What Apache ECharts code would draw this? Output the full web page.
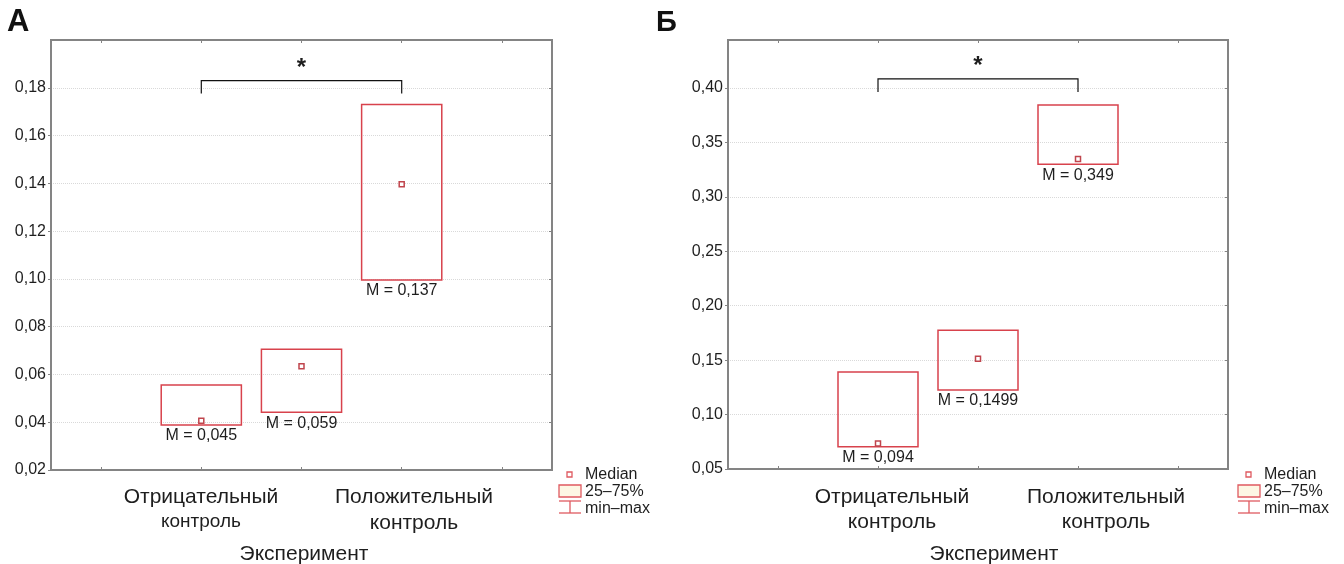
<!DOCTYPE html>
<html><head><meta charset="utf-8">
<script src="https://cdn.jsdelivr.net/npm/echarts@6/dist/echarts.min.js"></script>
<style>html,body{margin:0;padding:0;background:#fff}#c{width:1344px;height:564px}</style>
</head><body><div id="c"></div>
<script>
// ---- data ----
const slots = ['', 'g1', 'g2', 'g3', ''];      // category slots on the x axis
const groupSlot = [1, 2, 3];                      // slot of each box
// Panel А
const aQ1 = [0.0388, 0.0442, 0.0995];
const aQ3 = [0.0556, 0.0705, 0.1730];
const aMedian = [0.0406, 0.0634, 0.1396];
const aMean = [0.045, 0.059, 0.137];
const aAxis = {min: 0.02, max: 0.20, interval: 0.02};
const aBracket = [1, 3, 0.1830, 0.1776];
// Panel Б
const bQ1 = [0.0704, 0.1226, 0.3300];
const bQ3 = [0.1390, 0.1774, 0.3843];
const bMedian = [0.0735, 0.1512, 0.3346];
const bMean = [0.094, 0.1499, 0.349];
const bAxis = {min: 0.05, max: 0.444, interval: 0.05};
const bBracket = [1, 3, 0.4083, 0.3963];
// texts
const panelLetters = ['А', 'Б'];
const groupLabels = [['Отрицательный', 'контроль'], ['Положительный', 'контроль']];
const xTitle = 'Эксперимент';
const legendNames = ['Median', '25–75%', 'min–max'];
const star = '*';

// ---- styles ----
const FONT = '"Liberation Sans", Arial, Helvetica, sans-serif';
const RED = '#d8424c';
const MED = '#c0454d';
const LEG = '#df5a60';
const TXT = '#1e1e1e';
const FRAME = '#848484';

function fmt(v) { return String(v).replace('.', ','); }

function boxData(q1, q3, med, mean) {
  return groupSlot.map((s, i) => [s, q1[i], q3[i], med[i], mean[i]]);
}

function boxRender(params, api) {
  const x = api.value(0);
  const lo = api.coord([x, api.value(1)]);
  const hi = api.coord([x, api.value(2)]);
  const md = api.coord([x, api.value(3)]);
  const w = api.size([1, 0])[0] * 0.8;
  return {type: 'group', children: [
    {type: 'rect', shape: {x: lo[0] - w / 2, y: hi[1], width: w, height: lo[1] - hi[1]},
     style: {fill: 'none', stroke: RED, lineWidth: 1.5}},
    {type: 'rect', shape: {x: md[0] - 2.5, y: md[1] - 2.5, width: 5, height: 5},
     style: {fill: '#fff', stroke: MED, lineWidth: 1.5}},
    {type: 'text', style: {text: 'M = ' + fmt(api.value(4)), x: lo[0], y: lo[1] + 3,
     align: 'center', verticalAlign: 'top', font: '16px ' + FONT, fill: TXT}}
  ]};
}

function bracketRender(params, api) {
  const p1 = api.coord([api.value(0), api.value(3)]);
  const p2 = api.coord([api.value(0), api.value(2)]);
  const p3 = api.coord([api.value(1), api.value(2)]);
  const p4 = api.coord([api.value(1), api.value(3)]);
  return {type: 'group', children: [
    {type: 'polyline', shape: {points: [p1, p2, p3, p4]}, style: {fill: 'none', stroke: '#111', lineWidth: 1.2}},
    {type: 'text', style: {text: star, x: (p2[0] + p3[0]) / 2, y: p2[1] - 12, align: 'center',
     verticalAlign: 'middle', font: 'bold 24px ' + FONT, fill: TXT}}
  ]};
}

function yAxes(gi, ax) {
  return [
    {type: 'value', gridIndex: gi, min: ax.min, max: ax.max, interval: ax.interval,
     axisLine: {show: false},
     axisTick: {show: true, inside: false, length: 3, lineStyle: {color: FRAME}},
     axisLabel: {formatter: v => v.toFixed(2).replace('.', ','), fontSize: 16, fontFamily: FONT,
                 color: TXT, margin: 5, showMaxLabel: false},
     splitLine: {show: true, lineStyle: {color: '#d9d9d9', type: 'dotted', width: 1}}},
    {type: 'value', gridIndex: gi, position: 'right', min: ax.min, max: ax.max, interval: ax.interval,
     axisLine: {show: false}, axisLabel: {show: false}, splitLine: {show: false},
     axisTick: {show: true, inside: true, length: 3, lineStyle: {color: FRAME}}}
  ];
}
function xAxes(gi) {
  return [
    {type: 'category', gridIndex: gi, data: slots, position: 'bottom',
     axisLine: {show: false}, axisLabel: {show: false},
     axisTick: {show: true, inside: true, alignWithLabel: true, length: 3, lineStyle: {color: FRAME}}},
    {type: 'category', gridIndex: gi, data: slots, position: 'top',
     axisLine: {show: false}, axisLabel: {show: false},
     axisTick: {show: true, inside: true, alignWithLabel: true, length: 3, lineStyle: {color: FRAME}}}
  ];
}

// ---- graphic texts / legend ----
function legend(x0) {
  return [
    {type: 'rect', shape: {x: x0 + 8, y: 472, width: 5, height: 5}, style: {fill: '#fff', stroke: LEG, lineWidth: 1.3}},
    {type: 'rect', shape: {x: x0, y: 485, width: 22, height: 12}, style: {fill: '#fdf7e4', stroke: LEG, lineWidth: 1.3}},
    {type: 'line', shape: {x1: x0, y1: 501, x2: x0 + 22, y2: 501}, style: {stroke: LEG, lineWidth: 1.3}},
    {type: 'line', shape: {x1: x0 + 11, y1: 501, x2: x0 + 11, y2: 513}, style: {stroke: LEG, lineWidth: 1.3}},
    {type: 'line', shape: {x1: x0, y1: 513, x2: x0 + 22, y2: 513}, style: {stroke: LEG, lineWidth: 1.3}},
    {type: 'text', style: {text: legendNames[0], x: x0 + 26, y: 475, verticalAlign: 'middle', font: '16px ' + FONT, fill: TXT}},
    {type: 'text', style: {text: legendNames[1], x: x0 + 26, y: 492, verticalAlign: 'middle', font: '16px ' + FONT, fill: TXT}},
    {type: 'text', style: {text: legendNames[2], x: x0 + 26, y: 509, verticalAlign: 'middle', font: '16px ' + FONT, fill: TXT}}
  ];
}
function t(text, x, y, size, extra) {
  return Object.assign({type: 'text', style: {text: text, x: x, y: y, align: 'center', verticalAlign: 'middle',
    font: size + 'px ' + FONT, fill: TXT}}, extra || {});
}

const graphics = [
  {type: 'text', style: {text: panelLetters[0], x: 7, y: 22, verticalAlign: 'middle', font: 'bold 31px ' + FONT, fill: '#111'}},
  {type: 'text', style: {text: panelLetters[1], x: 656, y: 23, verticalAlign: 'middle', font: 'bold 29px ' + FONT, fill: '#111'}},
  t(groupLabels[0][0], 201, 497, 21), t(groupLabels[0][1], 201, 522, 19),
  t(groupLabels[1][0], 414, 497, 21), t(groupLabels[1][1], 414, 523, 21),
  t(xTitle, 304, 554, 21),
  t(groupLabels[0][0], 892, 497, 21), t(groupLabels[0][1], 892, 522, 21),
  t(groupLabels[1][0], 1106, 497, 21), t(groupLabels[1][1], 1106, 522, 21),
  t(xTitle, 994, 554, 21)
].concat(legend(559), legend(1238));

const chart = echarts.init(document.getElementById('c'), null, {renderer: 'canvas'});
chart.setOption({
  animation: false,
  backgroundColor: '#fff',
  grid: [
    {left: 51, top: 40, width: 501, height: 430, show: true, borderColor: FRAME, borderWidth: 2, backgroundColor: 'transparent', z: 3},
    {left: 728, top: 40, width: 500, height: 429, show: true, borderColor: FRAME, borderWidth: 2, backgroundColor: 'transparent', z: 3}
  ],
  xAxis: xAxes(0).concat(xAxes(1)),
  yAxis: yAxes(0, aAxis).concat(yAxes(1, bAxis)),
  series: [
    {type: 'custom', xAxisIndex: 0, yAxisIndex: 0, renderItem: boxRender, data: boxData(aQ1, aQ3, aMedian, aMean), clip: false},
    {type: 'custom', xAxisIndex: 0, yAxisIndex: 0, renderItem: bracketRender, data: [aBracket], clip: false},
    {type: 'custom', xAxisIndex: 2, yAxisIndex: 2, renderItem: boxRender, data: boxData(bQ1, bQ3, bMedian, bMean), clip: false},
    {type: 'custom', xAxisIndex: 2, yAxisIndex: 2, renderItem: bracketRender, data: [bBracket], clip: false}
  ],
  graphic: graphics
});
</script></body></html>
